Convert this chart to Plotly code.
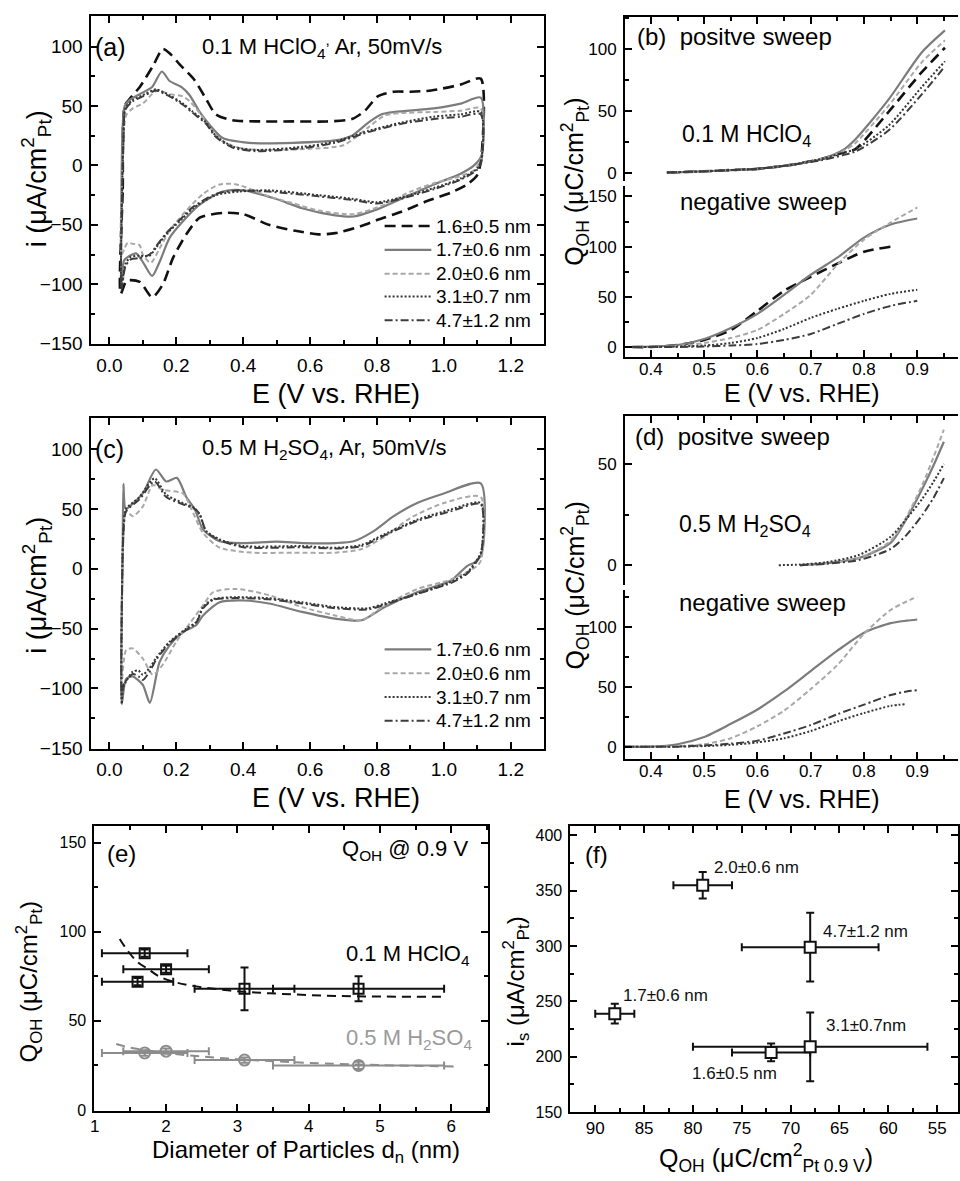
import plotly.graph_objects as go

W, H = 960, 1181
FONT = "Liberation Sans, Arial, Helvetica, sans-serif"

# ============================ DATA ============================
labels = ['1.6±0.5 nm', '1.7±0.6 nm', '2.0±0.6 nm', '3.1±0.7 nm', '4.7±1.2 nm']

# ---- (a) CVs in 0.1 M HClO4 : positive sweep (up) and negative sweep (dn) ----
a16_E_up = [0.034, 0.040, 0.046, 0.061, 0.091, 0.131, 0.160, 0.185, 0.210, 0.254, 0.289, 0.318, 0.368, 0.45, 0.55, 0.65, 0.725, 0.764, 0.802, 0.85, 0.90, 0.962, 1.05, 1.11]
a16_i_up = [-108, -20, 50, 56, 66, 84, 98, 93, 85, 72, 56, 43, 38, 37, 37, 37, 39, 46, 58, 62, 62, 63, 68, 73]
a16_E_dn = [1.112, 1.10, 1.07, 1.02, 0.95, 0.873, 0.80, 0.753, 0.675, 0.625, 0.556, 0.477, 0.40, 0.339, 0.27, 0.23, 0.19, 0.16, 0.128, 0.091, 0.052, 0.034]
a16_i_dn = [7, -8, -16, -23, -30, -39, -46, -51, -57, -58, -55, -50, -41, -40, -44, -58, -78, -100, -111, -98, -97, -108]

a17_E_up = [0.036, 0.040, 0.046, 0.06, 0.091, 0.128, 0.157, 0.18, 0.215, 0.24, 0.27, 0.30, 0.339, 0.418, 0.55, 0.675, 0.725, 0.774, 0.814, 0.854, 0.97, 1.05, 1.11]
a17_i_up = [-100, 34, 50, 55, 60, 66, 79, 71, 66, 59, 45, 34, 23, 19, 19, 21, 25, 36, 43, 45, 48, 52, 57]
a17_E_dn = [1.112, 1.09, 1.05, 0.97, 0.873, 0.80, 0.73, 0.675, 0.576, 0.497, 0.40, 0.339, 0.27, 0.22, 0.18, 0.152, 0.128, 0.104, 0.08, 0.061, 0.044, 0.036]
a17_i_dn = [8, 0, -7, -16, -28, -37, -43, -42, -36, -28, -21, -22, -33, -47, -61, -80, -93, -83, -74, -76, -80, -100]

a20_E_up = [0.036, 0.042, 0.05, 0.07, 0.10, 0.128, 0.145, 0.18, 0.22, 0.24, 0.27, 0.30, 0.34, 0.40, 0.50, 0.60, 0.70, 0.774, 0.823, 0.87, 0.97, 1.05, 1.11]
a20_i_up = [-75, 20, 42, 48, 52, 60, 63, 60, 58, 54, 44, 32, 20, 14, 13, 14, 17, 32, 42, 44, 45, 46, 48]
a20_E_dn = [1.112, 1.09, 1.05, 0.97, 0.90, 0.823, 0.73, 0.625, 0.55, 0.477, 0.38, 0.33, 0.28, 0.23, 0.18, 0.15, 0.124, 0.10, 0.09, 0.07, 0.055, 0.045, 0.036]
a20_i_dn = [6, -4, -9, -15, -22, -33, -41, -38, -32, -26, -16, -16, -24, -38, -55, -70, -82, -75, -67, -66, -65, -70, -75]

a31_E_up = [0.036, 0.042, 0.048, 0.07, 0.10, 0.128, 0.14, 0.18, 0.22, 0.25, 0.289, 0.318, 0.368, 0.437, 0.576, 0.675, 0.774, 0.873, 0.97, 1.05, 1.11]
a31_i_up = [-103, 20, 48, 55, 59, 63, 64, 59, 52, 45, 36, 25, 16, 13, 15.6, 20, 29, 36, 41, 43, 45]
a31_E_dn = [1.112, 1.10, 1.05, 0.97, 0.873, 0.80, 0.725, 0.625, 0.477, 0.388, 0.318, 0.25, 0.21, 0.17, 0.14, 0.12, 0.09, 0.064, 0.048, 0.036]
a31_i_dn = [5, -2.5, -11, -19, -27, -31, -28, -25, -21, -22, -25, -36, -47, -58, -69, -76, -76, -77, -83, -103]

a47_E_up = a31_E_up
a47_i_up = [-105, 20, 47, 54, 58, 62, 63, 58, 51, 44, 35, 24, 15, 12, 14.5, 19, 28, 35, 39, 41, 43]
a47_E_dn = a31_E_dn
a47_i_dn = [3, -3.5, -12, -20, -28, -32, -29, -26, -22, -21, -24, -35, -46, -57, -68, -75, -78, -79, -85, -105]

# ---- (c) CVs in 0.5 M H2SO4 ----
c17_E_up = [0.037, 0.040, 0.042, 0.046, 0.05, 0.06, 0.10, 0.139, 0.17, 0.202, 0.23, 0.255, 0.28, 0.33, 0.40, 0.50, 0.58, 0.675, 0.73, 0.79, 0.85, 0.92, 1.0, 1.11]
c17_i_up = [-113, 20, 71, 52, 50, 52, 63, 83, 73, 76, 60, 50, 33, 23, 21.5, 22.7, 21.5, 21.5, 23, 31.5, 44, 55, 63, 71.5]
c17_E_dn = [1.112, 1.09, 1.07, 1.02, 0.92, 0.823, 0.754, 0.675, 0.576, 0.477, 0.40, 0.33, 0.28, 0.26, 0.22, 0.18, 0.15, 0.121, 0.10, 0.07, 0.05, 0.037]
c17_i_dn = [12, 5, 2.5, -10, -19.6, -32, -43, -41.7, -36, -29, -26.5, -28, -39, -47, -53, -64, -78, -112, -97, -90, -92, -113]

c20_E_up = [0.037, 0.042, 0.05, 0.07, 0.10, 0.13, 0.16, 0.22, 0.245, 0.28, 0.33, 0.43, 0.55, 0.675, 0.754, 0.823, 0.90, 1.0, 1.11]
c20_i_up = [-94, 25, 48, 44, 52, 70, 66, 63, 50, 30, 17.6, 13.5, 13.5, 13.5, 16.5, 27, 42.5, 55, 60]
c20_E_dn = [1.112, 1.10, 1.02, 0.92, 0.823, 0.754, 0.675, 0.576, 0.477, 0.38, 0.31, 0.28, 0.24, 0.20, 0.16, 0.13, 0.10, 0.07, 0.05, 0.037]
c20_i_dn = [8, 2.5, -9, -17, -30.6, -43, -39, -32, -22, -16.8, -19.6, -30.6, -45.8, -61, -80, -88.6, -75, -66.5, -68, -94]

c31_E_up = [0.037, 0.042, 0.05, 0.09, 0.135, 0.17, 0.22, 0.255, 0.27, 0.29, 0.33, 0.40, 0.576, 0.675, 0.754, 0.823, 0.92, 1.02, 1.11]
c31_i_up = [-113, 33, 50, 60, 75.6, 62, 55, 50.7, 45, 31.5, 24.6, 19, 19, 17.6, 20, 29, 41, 49.5, 55]
c31_E_dn = [1.112, 1.10, 1.07, 1.02, 0.92, 0.823, 0.774, 0.675, 0.576, 0.477, 0.38, 0.31, 0.28, 0.26, 0.23, 0.18, 0.14, 0.12, 0.10, 0.087, 0.07, 0.042, 0.037]
c31_i_dn = [15, 8, -3, -11, -20.8, -29, -33, -32, -28, -24.6, -23.7, -25.4, -32, -44.4, -50, -61, -74.5, -83, -88.6, -85, -86, -99, -113]

c47_E_up = c31_E_up
c47_i_up = [-105, 30, 48, 58, 73, 60, 54, 50, 46, 31, 24, 18, 18, 17, 19, 28, 40, 48, 54]
c47_E_dn = c31_E_dn
c47_i_dn = [14, 7, -4, -12, -21, -30, -34, -33, -29, -25.5, -24.5, -26, -33, -45, -51, -62, -76, -86, -93, -90, -88, -97, -105]

# ---- (b) Q_OH in 0.1 M HClO4 ----
b_pos_E = [0.43, 0.5, 0.55, 0.6, 0.66, 0.72, 0.76, 0.784, 0.846, 0.908, 0.952]
b_pos_16 = [0, 1, 2, 3, 6, 11, 16, 19, 49, 81, 101]
b_pos_17 = [0, 1, 2, 3, 6, 11, 18, 27, 59, 97, 115]
b_pos_20 = [0, 1, 2, 3, 6, 11, 17, 24, 54, 89, 107]
b_pos_31 = [0, 1, 2, 3, 6, 11, 16, 19, 38, 69, 90]
b_pos_47 = [0, 1, 2, 3, 6, 10, 14, 17, 34, 63, 86]

b_neg_E = [0.365, 0.4, 0.45, 0.5, 0.55, 0.6, 0.65, 0.7, 0.75, 0.8, 0.85, 0.9]
b_neg_16 = [0, 0, 2, 7, 17, 36, 56, 70, 83, 95, 100, None]
b_neg_17 = [0, 0.5, 2, 8, 19, 33, 52, 72, 89, 109, 122, 128]
b_neg_20 = [0, 0, 1, 4, 9, 17, 33, 52, 82, 107, 124, 139]
b_neg_31 = [0, 0, 0.5, 1.5, 4, 9, 18, 29, 38, 46, 53, 57]
b_neg_47 = [0, 0, 0, 0.5, 1.5, 3, 7, 13, 23, 33, 41, 46]

# ---- (d) Q_OH in 0.5 M H2SO4 ----
d_pos_E = [0.64, 0.68, 0.73, 0.79, 0.85, 0.88, 0.91, 0.93, 0.95]
d_pos_17 = [None, 0, 1, 3.5, 11, 23, 38, 49, 61]
d_pos_20 = [None, 0, 1, 3.5, 12, 24, 40, 53, 67]
d_pos_31 = [0, 0.3, 1.5, 5, 14, 23, 33, 41, 50]
d_pos_47 = [None, 0, 0.7, 2.5, 8, 15, 25, 33, 43]

d_neg_E = [0.35, 0.4, 0.45, 0.5, 0.55, 0.6, 0.65, 0.7, 0.75, 0.8, 0.85, 0.88, 0.9]
d_neg_17 = [0, 0, 2, 8, 19, 31, 46, 63, 80, 95, 103, 105, 106]
d_neg_20 = [0, 0, 0.5, 2, 7, 17, 30, 48, 68, 94, 114, 121, 125]
d_neg_31 = [0, 0, 0, 0.5, 1.5, 3.5, 7, 13, 21, 28, 34, 35.5, None]
d_neg_47 = [0, 0, 0, 1, 2.5, 5, 11, 18, 27, 35, 43, 46, 47]

# ---- (e) Q_OH @ 0.9 V vs particle diameter ----
e_d_hclo4 = [1.6, 1.7, 2.0, 3.1, 4.7]
e_derr_hclo4 = [0.5, 0.6, 0.6, 0.7, 1.2]
e_q_hclo4 = [72, 88, 79, 68, 68]
e_qerr_hclo4 = [2, 2, 2, 12, 7]
e_fit_d_hclo4 = [1.35, 1.45, 1.6, 1.75, 1.9, 2.1, 2.4, 2.9, 3.45, 4.4, 5.9]
e_fit_q_hclo4 = [96, 90, 83, 79, 75, 72, 69.5, 67, 65.5, 64, 63.5]

e_d_h2so4 = [1.7, 2.0, 3.1, 4.7]
e_derr_h2so4 = [0.6, 0.6, 0.7, 1.2]
e_q_h2so4 = [32, 33, 28, 25]
e_qerr_h2so4 = [1.5, 1.5, 1.5, 2]
e_fit_d_h2so4 = [1.3, 1.5, 2.0, 2.5, 3.0, 3.5, 4.0, 5.0, 6.1]
e_fit_q_h2so4 = [37, 35, 32, 30, 28.5, 27.4, 26.4, 25.2, 24.4]

# ---- (f) specific activity vs Q_OH ----
f_labels = ['1.7±0.6 nm', '2.0±0.6 nm', '1.6±0.5 nm', '3.1±0.7nm', '4.7±1.2 nm']
f_q = [88, 79, 72, 68, 68]
f_qerr = [2, 3, 4, 12, 7]
f_i = [239, 355, 204, 209, 299]
f_ierr = [9, 12, 8, 31, 31]
f_lab_q = [87.4, 78.0, 80.3, 66.6, 66.9]
f_lab_i = [255, 371, 185, 228, 313]

# ============================ STYLE ============================
styles = [
    dict(color='#111111', width=2.6, dash='11px,6px'),
    dict(color='#7c7c7c', width=2.2, dash='solid'),
    dict(color='#a8a8a8', width=2.0, dash='5px,3px'),
    dict(color='#353535', width=2.0, dash='2px,2px'),
    dict(color='#3c3c3c', width=2.0, dash='8px,3px,2px,3px'),
]

fig = go.Figure()

def add_line(x, y, k, xa, ya, name=None):
    fig.add_trace(go.Scatter(
        x=x, y=y, mode='lines', line=dict(**styles[k], shape='spline', smoothing=0.7),
        xaxis=xa, yaxis=ya, name=name, showlegend=False, connectgaps=False, hoverinfo='skip'))

# (a)
a_sets = [(a16_E_up, a16_i_up, a16_E_dn, a16_i_dn), (a17_E_up, a17_i_up, a17_E_dn, a17_i_dn),
          (a20_E_up, a20_i_up, a20_E_dn, a20_i_dn), (a31_E_up, a31_i_up, a31_E_dn, a31_i_dn),
          (a47_E_up, a47_i_up, a47_E_dn, a47_i_dn)]
for k, (eu, iu, ed, idn) in enumerate(a_sets):
    add_line(eu + ed, iu + idn, k, 'x', 'y', name=labels[k])

# (c)
c_sets = [(c17_E_up, c17_i_up, c17_E_dn, c17_i_dn), (c20_E_up, c20_i_up, c20_E_dn, c20_i_dn),
          (c31_E_up, c31_i_up, c31_E_dn, c31_i_dn), (c47_E_up, c47_i_up, c47_E_dn, c47_i_dn)]
for k, (eu, iu, ed, idn) in enumerate(c_sets):
    add_line(eu + ed, iu + idn, k + 1, 'x4', 'y4', name=labels[k + 1])

# (b)
for k, yv in enumerate([b_pos_16, b_pos_17, b_pos_20, b_pos_31, b_pos_47]):
    add_line(b_pos_E, yv, k, 'x2', 'y2')
for k, yv in enumerate([b_neg_16, b_neg_17, b_neg_20, b_neg_31, b_neg_47]):
    add_line(b_neg_E, yv, k, 'x3', 'y3')

# (d)
for k, yv in enumerate([d_pos_17, d_pos_20, d_pos_31, d_pos_47]):
    add_line(d_pos_E, yv, k + 1, 'x5', 'y5')
for k, yv in enumerate([d_neg_17, d_neg_20, d_neg_31, d_neg_47]):
    add_line(d_neg_E, yv, k + 1, 'x6', 'y6')

# (e)
fig.add_trace(go.Scatter(x=e_fit_d_hclo4, y=e_fit_q_hclo4, mode='lines', xaxis='x7', yaxis='y7',
                         line=dict(color='#111111', width=2, dash='9px,6px', shape='spline'), showlegend=False))
fig.add_trace(go.Scatter(x=e_fit_d_h2so4, y=e_fit_q_h2so4, mode='lines', xaxis='x7', yaxis='y7',
                         line=dict(color='#8c8c8c', width=2, dash='9px,6px', shape='spline'), showlegend=False))
fig.add_trace(go.Scatter(
    x=e_d_hclo4, y=e_q_hclo4, mode='markers', xaxis='x7', yaxis='y7', showlegend=False,
    marker=dict(symbol='square-open', size=10, color='#111111', line=dict(width=2)),
    error_x=dict(type='data', array=e_derr_hclo4, color='#111111', thickness=2, width=4),
    error_y=dict(type='data', array=e_qerr_hclo4, color='#111111', thickness=2, width=4)))
fig.add_trace(go.Scatter(
    x=e_d_h2so4, y=e_q_h2so4, mode='markers', xaxis='x7', yaxis='y7', showlegend=False,
    marker=dict(symbol='circle-open', size=11, color='#8c8c8c', line=dict(width=2)),
    error_x=dict(type='data', array=e_derr_h2so4, color='#8c8c8c', thickness=2, width=4),
    error_y=dict(type='data', array=e_qerr_h2so4, color='#8c8c8c', thickness=2, width=4)))

# (f)
fig.add_trace(go.Scatter(
    x=f_q, y=f_i, mode='markers', xaxis='x8', yaxis='y8', showlegend=False,
    marker=dict(symbol='square', size=11, color='white', line=dict(width=2, color='#111111')),
    error_x=dict(type='data', array=f_qerr, color='#111111', thickness=2, width=4),
    error_y=dict(type='data', array=f_ierr, color='#111111', thickness=2, width=4)))

# ============================ AXES ============================
def ax(domain, rng, dtick, minor, anchor, size, **kw):
    d = dict(domain=domain, range=rng, dtick=dtick, tick0=0, anchor=anchor,
             showline=True, linecolor='black', linewidth=2, ticks='inside', ticklen=7,
             tickwidth=2, tickcolor='black', showgrid=False, zeroline=False,
             ticklabelstandoff=3,
             tickfont=dict(family=FONT, size=size, color='black'),
             minor=dict(dtick=minor, tick0=0, ticks='inside', ticklen=4, tickwidth=1.6,
                        tickcolor='black', showgrid=False))
    d.update(kw)
    return d

def X(p): return p / W
def Y(p): return 1 - p / H

xa_cv = [X(88), X(543)]
xr_cv = [-0.0535, 1.298]
xb = [X(625), 1.0]
xr_b = [0.3515, 0.9765]

layout = dict(
    xaxis=ax(xa_cv, xr_cv, 0.2, 0.1, 'y', 19, tickformat='.1f', mirror='ticks'),
    yaxis=ax([Y(347), Y(16)], [-150.3, 125.8], 50, 25, 'x', 19, mirror='ticks'),
    xaxis2=ax(xb, xr_b, 0.1, 0.05, 'y2', 17, side='top', showticklabels=False),
    yaxis2=ax([Y(183), Y(17)], [-7.2, 126], 50, 25, 'x2', 17),
    xaxis3=ax(xb, xr_b, 0.1, 0.05, 'y3', 17, tickformat='.1f', ticklabelstandoff=-4),
    yaxis3=ax([Y(360), Y(188)], [-9.9, 160], 50, 25, 'x3', 17),
    xaxis4=ax(xa_cv, xr_cv, 0.2, 0.1, 'y4', 19, tickformat='.1f', mirror='ticks'),
    yaxis4=ax([Y(755), Y(422)], [-150.3, 125.7], 50, 25, 'x4', 19, mirror='ticks'),
    xaxis5=ax(xb, xr_b, 0.1, 0.05, 'y5', 17, side='top', showticklabels=False),
    yaxis5=ax([Y(590), Y(420)], [-9.8, 73.5], 50, 25, 'x5', 17),
    xaxis6=ax(xb, xr_b, 0.1, 0.05, 'y6', 17, tickformat='.1f', ticklabelstandoff=-4),
    yaxis6=ax([Y(765), Y(595)], [-9.9, 130.6], 50, 25, 'x6', 17),
    xaxis7=ax([X(91), X(487)], [0.995, 6.515], 1, 0.5, 'y7', 17, mirror='ticks', ticklabelstandoff=-1),
    yaxis7=ax([Y(1120), Y(833)], [-0.3, 159.4], 50, 25, 'x7', 16, mirror='ticks'),
    xaxis8=ax([X(570), 1.0], [92.54, 52.87], 5, 2.5, 'y8', 17, mirror='ticks', ticklabelstandoff=-1),
    yaxis8=ax([Y(1122), Y(833)], [149.7, 408.5], 50, 25, 'x8', 16, mirror='ticks'),
)

# ============================ TEXT ============================
anns = []
def T(text, x, y, size, xanchor='left', color='black', angle=0):
    anns.append(dict(text=text, x=X(x), y=Y(y), xref='paper', yref='paper', xanchor=xanchor,
                     yanchor='middle', showarrow=False, textangle=angle,
                     font=dict(family=FONT, size=size, color=color)))

# (a)
T('(a)', 90, 47, 25)
T('0.1 M HClO<sub>4</sub><sup>,</sup> Ar, 50mV/s', 197, 47, 22)
T('E (V vs. RHE)', 334, 397, 27, xanchor='center')
T('i (μA/cm<sup>2</sup><sub>Pt</sub>)', 33, 180, 27, xanchor='center', angle=-90)
# (c)
T('(c)', 90, 453, 25)
T('0.5 M H<sub>2</sub>SO<sub>4</sub>, Ar, 50mV/s', 197, 453, 22)
T('E (V vs. RHE)', 334, 805, 27, xanchor='center')
T('i (μA/cm<sup>2</sup><sub>Pt</sub>)', 33, 590, 27, xanchor='center', angle=-90)
# (b)
T('(b)  positve sweep', 635, 37, 24)
T('0.1 M HClO<sub>4</sub>', 680, 137, 23)
T('negative sweep', 678, 203, 24)
T('E (V vs. RHE)', 803, 396, 25, xanchor='center')
T('Q<sub>OH</sub> (μC/cm<sup>2</sup><sub>Pt</sub>)', 575, 183, 25, xanchor='center', angle=-90)
# (d)
T('(d)  positve sweep', 633, 440, 24)
T('0.5 M H<sub>2</sub>SO<sub>4</sub>', 677, 530, 23)
T('negative sweep', 677, 608, 24)
T('E (V vs. RHE)', 803, 806, 25, xanchor='center')
T('Q<sub>OH</sub> (μC/cm<sup>2</sup><sub>Pt</sub>)', 575, 590, 25, xanchor='center', angle=-90)
# (e)
T('(e)', 102, 861, 24)
T('Q<sub>OH</sub> @ 0.9 V', 338, 857, 22)
T('0.1 M HClO<sub>4</sub>', 342, 963, 22)
T('0.5 M H<sub>2</sub>SO<sub>4</sub>', 342, 1048, 22, color='#9a9a9a')
T('Diameter of Particles d<sub>n</sub> (nm)', 304, 1161, 24, xanchor='center')
T('Q<sub>OH</sub> (μC/cm<sup>2</sup><sub>Pt</sub>)', 25, 990, 24, xanchor='center', angle=-90)
# (f)
T('(f)', 583, 862, 24)
T('Q<sub>OH</sub> (μC/cm<sup>2</sup><sub>Pt 0.9 V</sub>)', 767, 1168, 25, xanchor='center')
T('i<sub>s</sub> (μA/cm<sup>2</sup><sub>Pt</sub>)', 515, 990, 24, xanchor='center', angle=-90)
for lab, q, i in zip(f_labels, f_lab_q, f_lab_i):
    anns.append(dict(text=lab, x=q, y=i, xref='x8', yref='y8', xanchor='left', yanchor='middle',
                     showarrow=False, font=dict(family=FONT, size=17, color='#111111')))

# ---- legends for (a) and (c): line samples + labels ----
shapes = []
def legend_block(keys, rows_y):
    for k, yy in zip(keys, rows_y):
        st = styles[k]
        shapes.append(dict(type='line', xref='paper', yref='paper', x0=X(383), x1=X(430),
                           y0=Y(yy), y1=Y(yy),
                           line=dict(color=st['color'], width=st['width'], dash=st['dash'])))
        T(labels[k], 433, yy, 19)

legend_block([0, 1, 2, 3, 4], [228, 252, 276, 299, 323])
legend_block([1, 2, 3, 4], [655, 679, 703, 727])

fig.update_layout(
    width=W, height=H, margin=dict(l=0, r=0, t=0, b=0),
    paper_bgcolor='white', plot_bgcolor='white',
    font=dict(family=FONT, color='black'),
    annotations=anns, shapes=shapes, showlegend=False,
    **layout)

fig.write_html("out.html")
